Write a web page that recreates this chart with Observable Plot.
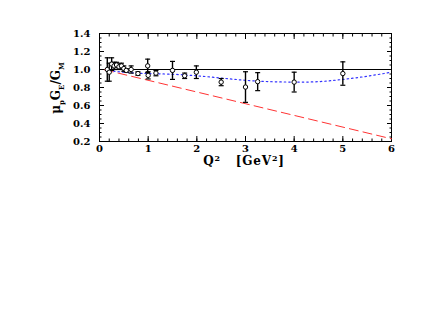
<!DOCTYPE html>
<html>
<head>
<meta charset="utf-8">
<script src="https://cdn.jsdelivr.net/npm/d3@7"></script>
<script src="https://cdn.jsdelivr.net/npm/@observablehq/plot@0.6"></script>
<style>
  html, body { margin: 0; padding: 0; background: #fff; }
  #chart { width: 436px; height: 327px; }
</style>
</head>
<body>
<div id="chart"></div>
<script>
// Data points: Q^2, ratio, error
const q2   = [0.16, 0.20, 0.25, 0.30, 0.35, 0.40, 0.45, 0.50, 0.55, 0.65, 0.79, 0.99, 1.00, 1.16, 1.50, 1.75, 1.99, 2.50, 3.00, 3.25, 4.00, 5.00];
const ratio= [1.00, 0.97, 1.06, 1.04, 1.05, 1.03, 1.04, 1.01, 0.99, 1.00, 0.955, 1.04, 0.935, 0.96, 0.99, 0.93, 0.97, 0.86, 0.805, 0.865, 0.86, 0.955];
const err  = [0.13, 0.10, 0.07, 0.04, 0.03, 0.03, 0.03, 0.03, 0.02, 0.04, 0.02, 0.075, 0.04, 0.03, 0.10, 0.03, 0.07, 0.04, 0.17, 0.10, 0.11, 0.13];

// Blue dotted model curve
const curveQ2 = [0.2, 0.4, 0.7, 1.0, 1.5, 2.0, 2.5, 3.0, 3.5, 4.0, 4.5, 5.0, 5.5, 6.0];
const curveR  = [0.99, 0.975, 0.962, 0.955, 0.947, 0.93, 0.905, 0.88, 0.865, 0.86, 0.865, 0.89, 0.925, 0.97];

// Red dashed linear fit endpoints
const fitQ2 = [0.1, 6.0];
const fitR  = [0.997, 0.23];

const xTicks = [0, 1, 2, 3, 4, 5, 6];
const yTicks = [0.2, 0.4, 0.6, 0.8, 1.0, 1.2, 1.4];
const xMinor = d3.range(0, 6.001, 0.2);
const yMinor = d3.range(0.2, 1.4001, 0.05);

const pts = q2.map((x, i) => ({x, y: ratio[i], lo: ratio[i] - err[i], hi: ratio[i] + err[i]}));
const curve = curveQ2.map((x, i) => ({x, y: curveR[i]}));
const fit = fitQ2.map((x, i) => ({x, y: fitR[i]}));

const cap = { draw(ctx, size) { ctx.moveTo(-2.5, 0); ctx.lineTo(2.5, 0); } };
const font = "DejaVu Serif";

const plot = Plot.plot({
  width: 436,
  height: 327,
  marginTop: 33,
  marginBottom: 186,
  marginLeft: 99,
  marginRight: 45,
  style: { fontFamily: font, fontSize: "10px", background: "white", color: "black" },
  x: { domain: [0, 6] },
  y: { domain: [0.2, 1.4] },
  marks: [
    Plot.frame({ stroke: "black" }),
    Plot.axisX(xMinor, { anchor: "bottom", tickSize: -2.5, text: null, label: null }),
    Plot.axisX(xMinor, { anchor: "top", tickSize: -2.5, text: null, label: null }),
    Plot.axisY(yMinor, { anchor: "left", tickSize: -2.5, text: null, label: null }),
    Plot.axisY(yMinor, { anchor: "right", tickSize: -2.5, text: null, label: null }),
    Plot.axisX(xTicks, { anchor: "bottom", tickSize: -5, tickPadding: 8, label: null, tickFormat: d3.format("d"), fontWeight: "bold" }),
    Plot.axisX(xTicks, { anchor: "top", tickSize: -5, text: null, label: null }),
    Plot.axisY(yTicks, { anchor: "left", tickSize: -5, tickPadding: 14, label: null, tickFormat: d3.format(".1f"), fontWeight: "bold" }),
    Plot.axisY(yTicks, { anchor: "right", tickSize: -5, text: null, label: null }),
    Plot.ruleY([1.0], { stroke: "black", strokeWidth: 1 }),
    Plot.line(fit, { x: "x", y: "y", stroke: "#ff3333", strokeWidth: 1, strokeDasharray: "9,5" }),
    Plot.line(curve, { x: "x", y: "y", stroke: "#3333ff", strokeWidth: 1.2, strokeDasharray: "1.5,3", curve: "natural" }),
    Plot.ruleX(pts, { x: "x", y1: "lo", y2: "hi", stroke: "black", strokeWidth: 1.4 }),
    Plot.dot(pts, { x: "x", y: "lo", symbol: cap, stroke: "black", strokeWidth: 1.2, r: 3 }),
    Plot.dot(pts, { x: "x", y: "hi", symbol: cap, stroke: "black", strokeWidth: 1.2, r: 3 }),
    Plot.dot(pts, { x: "x", y: "y", r: 2.2, stroke: "black", fill: "white", strokeWidth: 1 })
  ]
});

document.getElementById("chart").appendChild(plot);

const svg = d3.select(plot);
// x axis title
const xt = svg.append("text")
  .attr("x", 244).attr("y", 165)
  .attr("text-anchor", "middle")
  .attr("font-family", font).attr("font-size", 12).attr("font-weight", "bold")
  .attr("letter-spacing", 0.8)
  .attr("xml:space", "preserve").style("white-space", "pre");
xt.append("tspan").text("Q");
xt.append("tspan").attr("dy", -4).attr("font-size", 8).text("2");
xt.append("tspan").attr("dy", 4).text("   [GeV");
xt.append("tspan").attr("dy", -4).attr("font-size", 8).text("2");
xt.append("tspan").attr("dy", 4).text("]");

// y axis title (rotated)
const yt = svg.append("text")
  .attr("transform", "translate(60,88) rotate(-90)")
  .attr("text-anchor", "middle")
  .attr("font-family", font).attr("font-size", 12).attr("font-weight", "bold");
yt.append("tspan").text("μ");
yt.append("tspan").attr("dy", 4).attr("font-size", 7).text("p");
yt.append("tspan").attr("dy", -4).text("G");
yt.append("tspan").attr("dy", 4).attr("font-size", 7).text("E");
yt.append("tspan").attr("dy", -4).text("/G");
yt.append("tspan").attr("dy", 4).attr("font-size", 7).text("M");
</script>
</body>
</html>
